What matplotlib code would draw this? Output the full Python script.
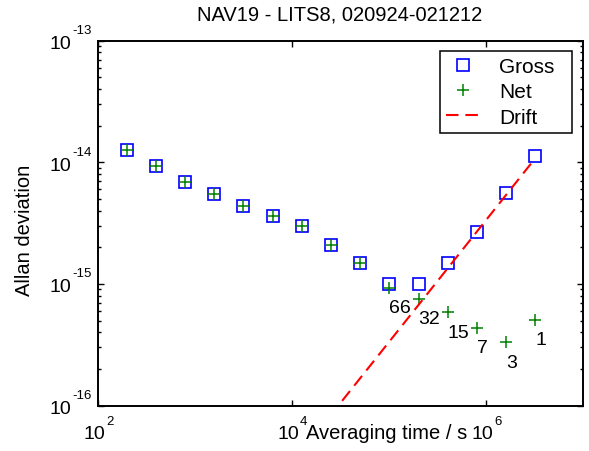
import numpy as np
import matplotlib
matplotlib.use("Agg")
import matplotlib.pyplot as plt
from matplotlib.ticker import FixedLocator, NullLocator, LogLocator, NullFormatter

plt.rcParams['font.family'] = ['Liberation Sans', 'DejaVu Sans']

# averaging times (s)
tau = [200, 400, 800, 1600, 3200, 6400, 12800, 25600, 51200,
       102400, 204800, 409600, 819200, 1638400, 3276800]

# Allan deviation, gross (drift included) and net (drift removed)
gross = [1.27e-14, 9.4e-15, 6.9e-15, 5.5e-15, 4.4e-15, 3.6e-15, 3.0e-15,
         2.1e-15, 1.48e-15, 1.0e-15, 1.0e-15, 1.48e-15, 2.66e-15,
         5.57e-15, 1.13e-14]
net = [1.27e-14, 9.4e-15, 6.9e-15, 5.5e-15, 4.4e-15, 3.6e-15, 3.0e-15,
       2.1e-15, 1.48e-15, 9.3e-16, 7.55e-16, 5.86e-16, 4.36e-16,
       3.32e-16, 5.07e-16]

# number of samples for the longest averaging times
n_labels = ['66', '32', '15', '7', '3', '1']

# drift line end points
drift_tau = [2.5e4, 3.2e6]
drift_val = [8.2e-17, 1.06e-14]

# tick values and exponents
xticks = [1e2, 1e4, 1e6]
xexp = ['2', '4', '6']
yticks = [1e-16, 1e-15, 1e-14, 1e-13]
yexp = ['-16', '-15', '-14', '-13']

W, H = 589, 452
PT = 0.72  # points per pixel at 100 dpi
fig = plt.figure(figsize=(W / 100, H / 100), dpi=100)
ax = fig.add_axes([97.5 / W, 1 - 406.5 / H, 485 / W, 364.8 / H])

# trailing spaces give the legend box the wider right margin of the original
ax.plot(tau, gross, 's', color='#0000ff', ms=9, mew=1.2, mfc='none', label='Gross  ')
ax.plot(tau, net, '+', color='#008000', ms=8.5, mew=1.1, label='Net')
ax.plot(drift_tau, drift_val, color='#ff0000', lw=1.5, ls=(0, (6, 3.3)), label='Drift')

k0 = len(tau) - len(n_labels)
for lab, t, v in zip(n_labels, tau[k0:], net[k0:]):
    ax.annotate(lab, (t, v), xytext=(0, -14.4), textcoords='offset points',
                ha='left', va='center', fontsize=14)

ax.set_xscale('log')
ax.set_yscale('log')
ax.set_xlim(1e2, 1e7)
ax.set_ylim(1e-16, 1e-13)

ax.xaxis.set_major_locator(FixedLocator(xticks))
ax.xaxis.set_minor_locator(NullLocator())
ax.yaxis.set_major_locator(FixedLocator(yticks))
ax.yaxis.set_minor_locator(LogLocator(base=10, subs=np.arange(2, 10), numticks=20))
ax.yaxis.set_minor_formatter(NullFormatter())
ax.set_xticklabels([])
ax.set_yticklabels([])

ax.tick_params(which='both', direction='in', top=True, right=True, width=1.0)
ax.tick_params(which='major', length=4.5)
ax.tick_params(which='minor', length=2.5)
for s in ax.spines.values():
    s.set_linewidth(1.4)

# tick labels drawn as "10" with a raised exponent
for t, e in zip(xticks, xexp):
    ax.annotate('10', (t, 0), xycoords=('data', 'axes fraction'),
                xytext=(8 * PT, -33 * PT), textcoords='offset points',
                ha='right', va='baseline', fontsize=14)
    ax.annotate(e, (t, 0), xycoords=('data', 'axes fraction'),
                xytext=(8.5 * PT, -18.5 * PT), textcoords='offset points',
                ha='left', va='baseline', fontsize=9.5)
for t, e in zip(yticks, yexp):
    ax.annotate('10', (0, t), xycoords=('axes fraction', 'data'),
                xytext=(-25.8 * PT, -7.3 * PT), textcoords='offset points',
                ha='right', va='baseline', fontsize=14)
    ax.annotate(e, (0, t), xycoords=('axes fraction', 'data'),
                xytext=(-25.2 * PT, 7.7 * PT), textcoords='offset points',
                ha='left', va='baseline', fontsize=9.5)

fig.text(340 / W, 1 - 15 / H, 'NAV19 - LITS8, 020924-021212',
         ha='center', va='center', fontsize=14.5)
fig.text(306 / W, 1 - 439.5 / H, 'Averaging time / s',
         ha='left', va='baseline', fontsize=14.5)
fig.text(25 / W, 1 - 230.5 / H, 'Allan deviation', rotation=90,
         ha='center', va='center', fontsize=14.5)

leg = ax.legend(loc='upper right', bbox_to_anchor=(572 / W, 1 - 52 / H),
                bbox_transform=fig.transFigure, borderaxespad=0,
                fontsize=15, fancybox=False,
                edgecolor='black', framealpha=1, borderpad=0.3,
                labelspacing=0.3, handlelength=1.65, handletextpad=0.9)
leg.get_frame().set_linewidth(1.1)

fig.savefig('out.png', dpi=100)
